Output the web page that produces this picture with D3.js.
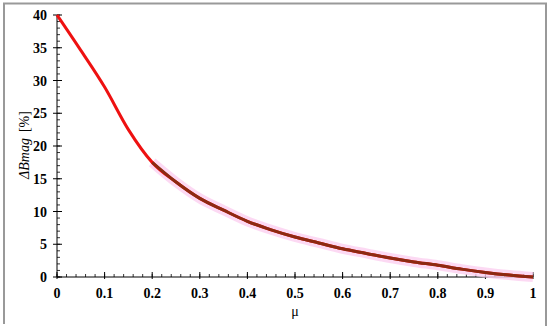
<!DOCTYPE html>
<html>
<head>
<meta charset="utf-8">
<script src="https://cdn.jsdelivr.net/npm/d3@7"></script>
<style>
  body { margin: 0; background: #fff; }
</style>
</head>
<body>
<svg id="chart"></svg>
<script>
// data
const mu = [0, 0.05, 0.1, 0.15, 0.2, 0.25, 0.3, 0.35, 0.4, 0.45, 0.5,
            0.55, 0.6, 0.65, 0.7, 0.75, 0.8, 0.85, 0.9, 0.95, 1];
const dB = [40, 34.6, 29.0, 22.5, 17.5, 14.5, 12.0, 10.2, 8.5, 7.2, 6.1,
            5.2, 4.3, 3.6, 2.9, 2.3, 1.8, 1.2, 0.7, 0.3, 0];
const xTicks = [0, 0.1, 0.2, 0.3, 0.4, 0.5, 0.6, 0.7, 0.8, 0.9, 1];
const yTicks = [0, 5, 10, 15, 20, 25, 30, 35, 40];

const width = 550, height = 333;
const serif = "'Liberation Serif', serif";
const svg = d3.select("#chart")
  .attr("width", width).attr("height", height);

// grey frame (top, left, right)
svg.append("path")
  .attr("d", "M4,324 V3.5 H546 V326")
  .attr("fill", "none")
  .attr("stroke", "#999")
  .attr("stroke-width", 2);

const x = d3.scaleLinear().domain([0, 1]).range([57, 533]);
const y = d3.scaleLinear().domain([0, 40]).range([277, 15]);

const data = mu.map((m, i) => ({ m: m, v: dB[i] }));

// axes
const g = svg.append("g");
g.append("line").attr("x1", x(0)).attr("x2", x(1)).attr("y1", y(0)).attr("y2", y(0))
  .attr("stroke", "#000").attr("stroke-width", 1);
g.append("line").attr("x1", x(0)).attr("x2", x(0)).attr("y1", y(0)).attr("y2", y(40))
  .attr("stroke", "#000").attr("stroke-width", 1);

// x ticks
const xMinor = d3.range(0, 1.0001, 0.02);
g.selectAll(".xminor").data(xMinor).enter().append("line")
  .attr("x1", d => x(d)).attr("x2", d => x(d))
  .attr("y1", y(0)).attr("y2", y(0) - 3)
  .attr("stroke", "#000").attr("stroke-width", 0.8);
g.selectAll(".xmajor").data(xTicks).enter().append("line")
  .attr("x1", d => x(d)).attr("x2", d => x(d))
  .attr("y1", y(0) + 2).attr("y2", y(0) - 5)
  .attr("stroke", "#000").attr("stroke-width", 1);
g.selectAll(".xlab").data(xTicks).enter().append("text")
  .attr("x", d => x(d)).attr("y", 298)
  .attr("text-anchor", "middle")
  .attr("font-family", serif)
  .attr("font-size", 14).attr("font-weight", "bold")
  .text(d => d);

// y ticks
const yMinor = d3.range(0, 40.001, 1);
g.selectAll(".yminor").data(yMinor).enter().append("line")
  .attr("x1", x(0)).attr("x2", x(0) + 3)
  .attr("y1", d => y(d)).attr("y2", d => y(d))
  .attr("stroke", "#000").attr("stroke-width", 0.8);
g.selectAll(".ymajor").data(yTicks).enter().append("line")
  .attr("x1", x(0) - 4).attr("x2", x(0) + 5)
  .attr("y1", d => y(d)).attr("y2", d => y(d))
  .attr("stroke", "#000").attr("stroke-width", 1);
g.selectAll(".ylab").data(yTicks).enter().append("text")
  .attr("x", 47).attr("y", d => y(d) + 5)
  .attr("text-anchor", "end")
  .attr("font-family", serif)
  .attr("font-size", 14).attr("font-weight", "bold")
  .text(d => d);

// axis titles
svg.append("text")
  .attr("x", x(0.5)).attr("y", 316)
  .attr("text-anchor", "middle")
  .attr("font-family", serif)
  .attr("font-size", 14)
  .text("μ");

const yt = svg.append("text")
  .attr("transform", "translate(29,145) rotate(-90)")
  .attr("text-anchor", "middle")
  .attr("font-family", serif)
  .attr("font-size", 14);
yt.append("tspan").attr("font-style", "italic").text("ΔBmag");
yt.append("tspan").attr("dx", 6).text("[%]");

// curve
const line = d3.line().x(d => x(d.m)).y(d => y(d.v)).curve(d3.curveMonotoneX);

const tail = data.filter(d => d.m >= 0.2);
svg.append("path").datum(tail)
  .attr("d", line)
  .attr("fill", "none")
  .attr("stroke", "#fbd0f0")
  .attr("stroke-width", 10)
  .attr("opacity", 0.8);

svg.append("path").datum(data)
  .attr("d", line)
  .attr("fill", "none")
  .attr("stroke", "#ee1111")
  .attr("stroke-width", 3);

svg.append("path").datum(tail)
  .attr("d", line)
  .attr("fill", "none")
  .attr("stroke", "#8c2a12")
  .attr("stroke-width", 3);
</script>
</body>
</html>
